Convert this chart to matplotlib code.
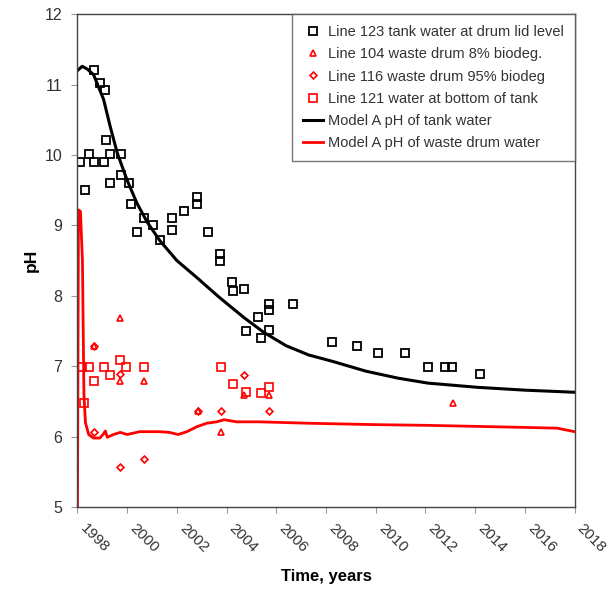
import matplotlib.pyplot as plt

plt.rcParams['font.family'] = ['Liberation Sans', 'DejaVu Sans']

# Line 123 - tank water at drum lid level (black squares)
line123_year = [1998.65, 1998.92, 1999.09, 1999.16, 1998.12, 1998.45, 1998.65, 1999.05,
                1999.32, 1999.76, 1998.29, 1999.32, 1999.76, 2000.08, 2000.16, 2000.41,
                2000.69, 2001.05, 2001.32, 2001.79, 2001.79, 2002.28, 2002.81, 2002.81,
                2003.25, 2003.72, 2003.72, 2004.23, 2004.25, 2004.69, 2005.69, 2005.69,
                2005.25, 2004.79, 2005.39, 2005.72, 2006.69, 2008.23, 2009.25, 2010.09,
                2011.19, 2012.12, 2012.79, 2013.08, 2014.19]
line123_ph = [11.21, 11.02, 10.92, 10.21, 9.9, 10.01, 9.9, 9.9,
              10.01, 10.01, 9.5, 9.6, 9.71, 9.6, 9.3, 8.9,
              9.1, 9.0, 8.8, 9.1, 8.93, 9.2, 9.41, 9.3,
              8.9, 8.6, 8.49, 8.19, 8.07, 8.1, 7.89, 7.8,
              7.7, 7.5, 7.4, 7.51, 7.89, 7.35, 7.29, 7.19,
              7.19, 6.99, 6.99, 6.99, 6.89]

# Line 104 - waste drum 8% biodeg (red triangles)
line104_year = [1999.72, 1998.65, 1999.72, 2000.69, 2002.83, 2003.76, 2004.69, 2005.69, 2013.12]
line104_ph = [7.68, 7.29, 6.79, 6.79, 6.37, 6.07, 6.59, 6.59, 6.48]

# Line 116 - waste drum 95% biodeg (red diamonds)
line116_year = [1998.65, 1998.65, 1999.72, 1999.72, 2000.69, 2002.83, 2003.76, 2004.69, 2005.69]
line116_ph = [7.29, 6.07, 6.89, 5.57, 5.68, 6.37, 6.37, 6.88, 6.37]

# Line 121 - water at bottom of tank (red squares)
line121_year = [1998.19, 1998.45, 1998.65, 1998.28, 1999.05, 1999.32, 1999.72, 1999.96,
                2000.69, 2003.76, 2004.25, 2004.79, 2005.39, 2005.72]
line121_ph = [6.99, 6.99, 6.79, 6.48, 6.99, 6.88, 7.09, 6.99,
              6.99, 6.99, 6.75, 6.64, 6.62, 6.71]

# Model A - tank water
tank_year = [1998.0, 1998.19, 1998.4, 1998.65, 1999.05, 1999.32, 1999.6, 2000.0, 2000.4,
             2000.8, 2001.3, 2002.0, 2002.8, 2003.7, 2004.7, 2005.5, 2006.4, 2007.3,
             2008.25, 2009.6, 2010.9, 2012.1, 2014.1, 2016.0, 2018.0]
tank_ph = [11.2, 11.26, 11.22, 11.14, 10.79, 10.4, 10.03, 9.64, 9.31,
           9.05, 8.79, 8.5, 8.26, 7.98, 7.69, 7.48, 7.29, 7.16,
           7.07, 6.93, 6.83, 6.76, 6.7, 6.66, 6.63]

# Model A - waste drum water
drum_year = [1998.0, 1998.04, 1998.12, 1998.2, 1998.26, 1998.32, 1998.45, 1998.65, 1998.9,
             1999.05, 1999.12, 1999.2, 1999.45, 1999.72, 2000.0, 2000.5, 2001.3, 2001.7,
             2002.05, 2002.4, 2002.8, 2003.2, 2003.6, 2003.9, 2004.4, 2005.3, 2007.3,
             2010.0, 2012.1, 2016.1, 2017.3, 2018.0]
drum_ph = [5.0, 9.22, 9.2, 8.5, 6.6, 6.2, 6.03, 5.98, 5.98,
           6.04, 6.08, 5.99, 6.03, 6.06, 6.03, 6.07, 6.07, 6.06,
           6.03, 6.07, 6.14, 6.19, 6.21, 6.24, 6.21, 6.21, 6.19,
           6.17, 6.16, 6.13, 6.12, 6.07]

year_ticks = list(range(1998, 2019, 2))
ph_ticks = [5, 6, 7, 8, 9, 10, 11, 12]

red = '#ff0000'

fig = plt.figure(figsize=(6.1, 5.93), dpi=100)
ax = fig.add_axes([0.127, 0.145, 0.815, 0.831])

ax.plot(line123_year, line123_ph, 's', mfc='none', mec='black', ms=5.5, mew=1.3,
        label='Line 123 tank water at drum lid level')
ax.plot(line104_year, line104_ph, '^', mfc='none', mec=red, ms=4.5, mew=1.2,
        label='Line 104 waste drum 8% biodeg.')
ax.plot(line116_year, line116_ph, 'D', mfc='none', mec=red, ms=3.5, mew=1.2,
        label='Line 116 waste drum 95% biodeg')
ax.plot(line121_year, line121_ph, 's', mfc='none', mec=red, ms=5.5, mew=1.2,
        label='Line 121 water at bottom of tank')
ax.plot(tank_year, tank_ph, '-', color='black', lw=2.2, label='Model A pH of tank water')
ax.plot(drum_year, drum_ph, '-', color=red, lw=2.0, label='Model A pH of waste drum water')

ax.set_xlim(1998, 2018)
ax.set_ylim(5, 12)
ax.set_xticks(year_ticks)
ax.set_yticks(ph_ticks)
ax.set_xticklabels([str(y) for y in year_ticks], rotation=-45, ha='left', va='top',
                   fontsize=11, color='#333333')
ax.set_yticklabels([str(p) for p in ph_ticks], fontsize=11.5, color='#333333')
ax.tick_params(axis='both', direction='out', length=4, width=0.8, color='#999999')
ax.tick_params(axis='y', pad=7)
ax.tick_params(axis='x', pad=6)

for s in ax.spines.values():
    s.set_color('#444444')
    s.set_linewidth(1.0)

ax.set_xlabel('Time, years', fontsize=12, fontweight='bold', labelpad=10)
ax.set_ylabel('pH', fontsize=12.5, fontweight='bold', labelpad=4)

# legend box sits in the top right corner
leg = ax.legend(loc='upper right', bbox_to_anchor=(1.0, 1.0), borderaxespad=0,
                fontsize=10.5, frameon=True, fancybox=False, handlelength=1.4,
                labelspacing=0.56, handletextpad=0.3, borderpad=0.75)
leg.get_frame().set_edgecolor('#555555')
leg.get_frame().set_linewidth(1.0)
for t in leg.get_texts():
    t.set_color('#333333')

fig.savefig('out.png', dpi=100)
